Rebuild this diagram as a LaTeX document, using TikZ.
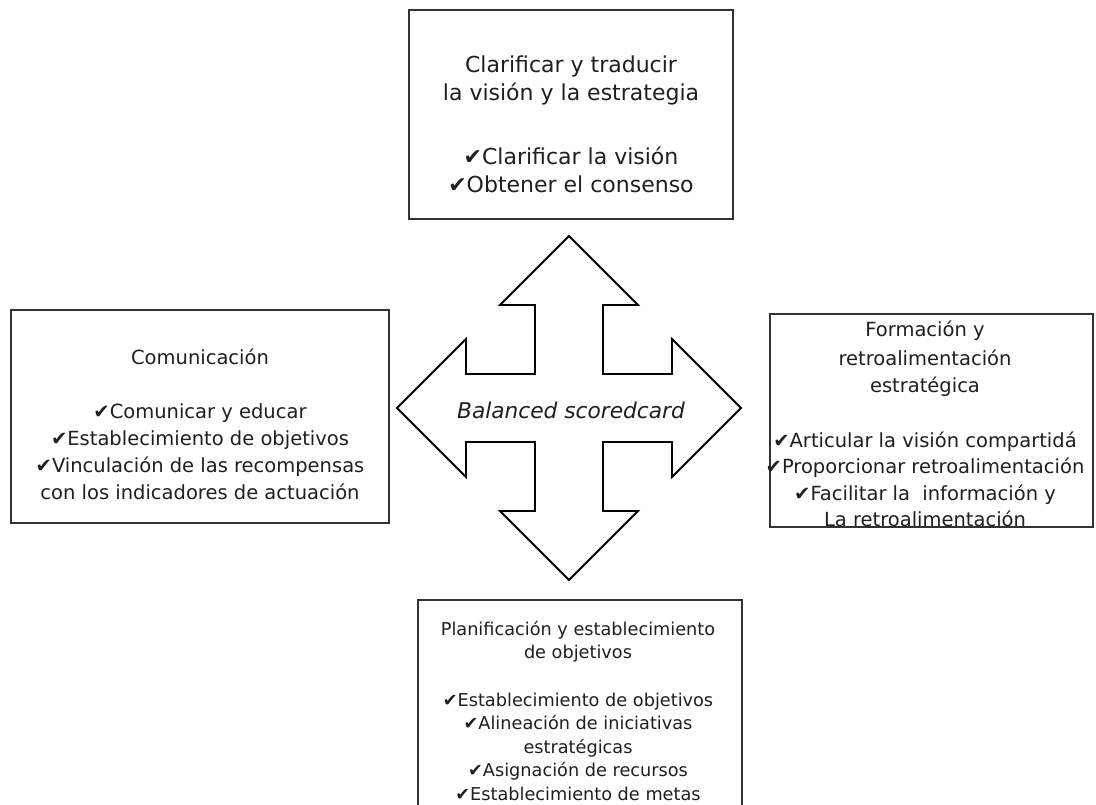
\documentclass[tikz,border=0pt]{standalone}
\usepackage{fontspec}
\setmainfont{DejaVu Sans}
\newcommand\okmark{✔}
\begin{document}
\begin{tikzpicture}[x=1pt,y=-1pt,
  frame/.style={draw=black!80, line width=1.2pt, fill=white, inner sep=0pt},
  boxtext/.style={align=center, inner sep=0pt, text=black!88},
  crossline/.style={draw=black, line width=1.9pt, line join=miter, fill=white}]
\useasboundingbox (0,0) rectangle (1096,805);
\clip (0,0) rectangle (1096,805);

% frames of the four perspectives
\node[frame, minimum width=324pt, minimum height=209pt] (topbox) at (571,114.5) {};
\node[frame, minimum width=378pt, minimum height=213pt] (leftbox) at (200,416.5) {};
\node[frame, minimum width=323pt, minimum height=213pt] (rightbox) at (931.5,420.5) {};
\node[frame, minimum width=324pt, minimum height=260pt] (bottombox) at (580,730) {};

% texts of the four perspectives
\node[boxtext, font=\fontsize{22pt}{28pt}\selectfont] (toptext) at (571,124.7)
  {Clarificar y traducir\\la visión y la estrategia\\[36pt]
   \okmark Clarificar la visión\\\okmark Obtener el consenso};
\node[boxtext, font=\fontsize{19.5pt}{27pt}\selectfont] (lefttext) at (200,424.5)
  {Comunicación\\[27pt]
   \okmark Comunicar y educar\\\okmark Establecimiento de objetivos\\
   \okmark Vinculación de las recompensas\\con los indicadores de actuación};
\node[boxtext, font=\fontsize{19.5pt}{26.5pt}\selectfont] (righttext) at (925,424)
  {Formación y\\[2pt]retroalimentación\\[1pt]estratégica\\[28pt]
   \okmark Articular la visión compartidá\\\okmark Proporcionar retroalimentación\\
   \okmark Facilitar la~ información y\\La retroalimentación};
\node[boxtext, font=\fontsize{17.7pt}{23.5pt}\selectfont] (bottomtext) at (578,710.7)
  {Planificación y establecimiento\\de objetivos\\[24pt]
   \okmark Establecimiento de objetivos\\\okmark Alineación de iniciativas\\estratégicas\\
   \okmark Asignación de recursos\\\okmark Establecimiento de metas};

% four-headed arrow in the middle
\begin{scope}[shift={(569,408)}]
  \draw[crossline] (0,-172) -- (69,-103) -- (34,-103) -- (34,-34) -- (103,-34)
    -- (103,-69) -- (172,0) -- (103,69) -- (103,34) -- (34,34) -- (34,103)
    -- (69,103) -- (0,172) -- (-69,103) -- (-34,103) -- (-34,34) -- (-103,34)
    -- (-103,69) -- (-172,0) -- (-103,-69) -- (-103,-34) -- (-34,-34)
    -- (-34,-103) -- (-69,-103) -- cycle;
\end{scope}
\node[anchor=base, inner sep=0pt, text=black!88, font=\fontsize{21.7pt}{26pt}\selectfont\itshape]
  (hub) at (571,418) {Balanced scoredcard};
\end{tikzpicture}
\end{document}
